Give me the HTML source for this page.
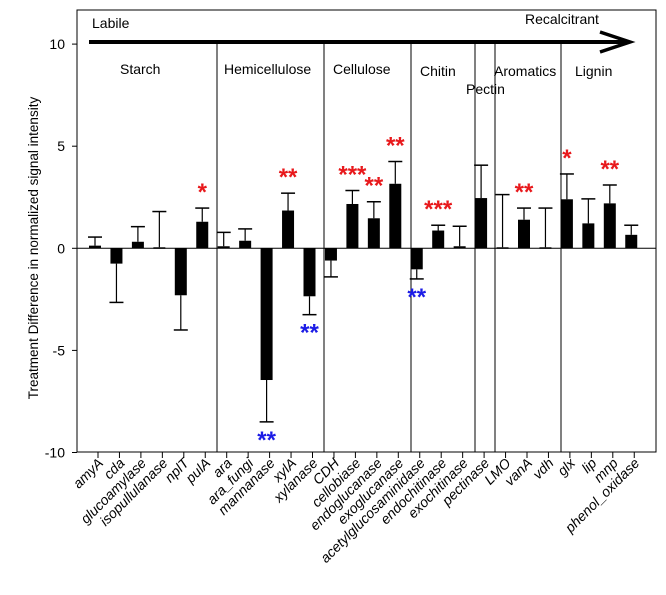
<!DOCTYPE html>
<html><head><meta charset="utf-8"><style>
html,body{margin:0;padding:0;background:#fff;}
svg{display:block;font-family:"Liberation Sans",Arial,sans-serif;}
</style></head><body>
<svg id="c" width="666" height="595" viewBox="0 0 666 595"></svg>
<script>
const categories=["amyA","cda","glucoamylase","isopullulanase","nplT","pulA","ara","ara_fungi","mannanase","xylA","xylanase","CDH","cellobiase","endoglucanase","exoglucanase","acetylglucosaminidase","endochitinase","exochitinase","pectinase","LMO","vanA","vdh","glx","lip","mnp","phenol_oxidase"];
const values=[0.13,-0.75,0.32,0.05,-2.3,1.3,0.1,0.37,-6.45,1.85,-2.35,-0.6,2.17,1.47,3.16,-1.03,0.87,0.1,2.46,0.05,1.4,0.05,2.4,1.22,2.2,0.66];
const errEnds=[0.55,-2.65,1.06,1.8,-4.0,1.97,0.78,0.95,-8.5,2.7,-3.25,-1.4,2.83,2.28,4.25,-1.5,1.13,1.08,4.07,2.63,1.97,1.97,3.64,2.42,3.1,1.13];
const stars=["","","","","","*","","","**","**","**","","***","**","**","**","***","","","","**","","*","","**",""];
const starColor=["","","","","","r","","","b","r","b","","r","r","r","b","r","","","","r","","r","","r",""];
const yTicks=[10,5,0,-5,-10];
const groups=[{name:"Starch",start:0,end:5},{name:"Hemicellulose",start:6,end:10},{name:"Cellulose",start:11,end:14},{name:"Chitin",start:15,end:17},{name:"Pectin",start:18,end:18},{name:"Aromatics",start:19,end:21},{name:"Lignin",start:22,end:25}];

const svg=document.getElementById('c');
const NS='http://www.w3.org/2000/svg';
const L=77,R=656,T=10,B=452;
const y0=248.3,ppu=20.42;
function y(v){return y0-v*ppu;}
function x(i){return 95+i*21.45;}
function mk(tag,at,parent){const e=document.createElementNS(NS,tag);for(const k in at)e.setAttribute(k,at[k]);(parent||svg).appendChild(e);return e;}

let f=mk('rect',{x:L,y:T,width:R-L,height:B-T,fill:'none',stroke:'#000','stroke-width':1});


let zl=mk('line',{x1:L,x2:R,y1:y(0),y2:y(0),stroke:'#000','stroke-width':1});



yTicks.forEach(v=>{
  const t=mk('line',{x1:L-5,x2:L,y1:y(v),y2:y(v),stroke:'#000'});
  
  
  const tx=mk('text',{x:L-12,y:y(v)+5,'text-anchor':'end','font-size':14,fill:'#000'});
  tx.textContent=v;
  
  
});
const yt=mk('text',{x:0,y:0,transform:'translate(38,248) rotate(-90)','text-anchor':'middle','font-size':13.5,fill:'#000'});
yt.textContent='Treatment Difference in normalized signal intensity';



const divX=[217,324,411,475,495,561];
divX.forEach(dx=>{
  const l=mk('line',{x1:dx,x2:dx,y1:43,y2:B,stroke:'#000'});
  
  
});
const glabelPos=[[120,74],[224,74],[333,74],[420,76],[466,94],[494,76],[575,76]];
groups.forEach((g,i)=>{
  const t=mk('text',{x:glabelPos[i][0],y:glabelPos[i][1],'font-size':14,fill:'#000'});
  t.textContent=g.name;
  
  
});

const ar=mk('line',{x1:89,x2:628,y1:42,y2:42,stroke:'#000','stroke-width':4});


const ah=mk('polyline',{points:'600,32 630,42 600,52',fill:'none',stroke:'#000','stroke-width':3.5});


const lb=mk('text',{x:92,y:28,'font-size':14,fill:'#000'});lb.textContent='Labile';


const rc=mk('text',{x:525,y:24,'font-size':14,fill:'#000'});rc.textContent='Recalcitrant';



categories.forEach((c,i)=>{
  const cx=x(i),v=values[i],e=errEnds[i];
  const top=Math.min(y(v),y(0)),h=Math.max(Math.abs(y(v)-y(0)),1.5);
  const b=mk('rect',{x:cx-6,y:top,width:12,height:h,fill:'#000'});
  
  
  const el=mk('line',{x1:cx,x2:cx,y1:y(v),y2:y(e),stroke:'#000','stroke-width':1.2});
  
  
  const ec=mk('line',{x1:cx-7,x2:cx+7,y1:y(e),y2:y(e),stroke:'#000','stroke-width':1.5});
  
  
  const tk=mk('line',{x1:cx+3,x2:cx+3,y1:B,y2:B+6,stroke:'#000'});
  
  
  const tl=mk('text',{x:0,y:0,transform:`translate(${cx+9},${B+12}) rotate(-45)`,'text-anchor':'end','font-size':14,'font-style':'italic',fill:'#000'});
  tl.textContent=c;
  
  
  if(stars[i]){
    const up=starColor[i]==='r';
    const sy=up?y(Math.max(e,v))-8:y(Math.min(e,v))+26;
    const s=mk('text',{x:cx,y:sy,'text-anchor':'middle','font-size':24,'font-weight':'bold',fill:up?'#e8191c':'#1c1ce6'});
    s.textContent=stars[i];
    
    
  }
});
</script>
</body></html>
